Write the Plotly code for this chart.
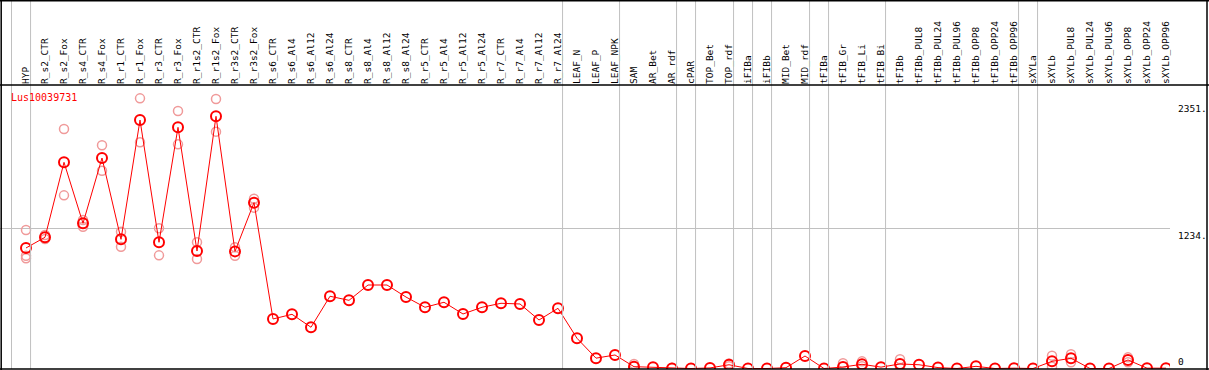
import plotly.graph_objects as go

categories = ["HYP", "R_s2_CTR", "R_s2_Fox", "R_s4_CTR", "R_s4_Fox", "R_r1_CTR", "R_r1_Fox",
              "R_r3_CTR", "R_r3_Fox", "R_r1s2_CTR", "R_r1s2_Fox", "R_r3s2_CTR", "R_r3s2_Fox",
              "R_s6_CTR", "R_s6_Al4", "R_s6_Al12", "R_s6_Al24", "R_s8_CTR", "R_s8_Al4",
              "R_s8_Al12", "R_s8_Al24", "R_r5_CTR", "R_r5_Al4", "R_r5_Al12", "R_r5_Al24",
              "R_r7_CTR", "R_r7_Al4", "R_r7_Al12", "R_r7_Al24", "LEAF_N", "LEAF_P", "LEAF_NPK",
              "SAM", "AR_Bet", "AR_rdf", "cPAR", "TOP_Bet", "TOP_rdf", "iFIBa", "iFIBb",
              "MID_Bet", "MID_rdf", "tFIBa", "tFIB_Gr", "tFIB_Li", "tFIB_Bi", "tFIBb",
              "tFIBb_PUL8", "tFIBb_PUL24", "tFIBb_PUL96", "tFIBb_OPP8", "tFIBb_OPP24",
              "tFIBb_OPP96", "sXYLa", "sXYLb", "sXYLb_PUL8", "sXYLb_PUL24", "sXYLb_PUL96",
              "sXYLb_OPP8", "sXYLb_OPP24", "sXYLb_OPP96"]

mean_values = [1061, 1155, 1815, 1278, 1853, 1137, 2187, 1111, 2123, 1034, 2220, 1031, 1460,
               436, 477, 363, 636, 600, 735, 735, 629, 539, 583, 480, 539, 574, 568, 427, 530,
               266, 91, 119,
               16, 10, 0, 0, 5, 33, 0, 0, 7, 110, 0, 13, 37, 12, 40,
               33, 8, 0, 19, 0, 3, 0, 63, 90, 0, 0, 75, 3, 3]

N = None
rep_a = [1219, 1175, 2108, 1307, 1965, 1204, 2378, 1234, 2267, 1111, 2372, 1067, 1495,
         N, N, N, N, N, N, N, N, N, N, N, N, N, N, N, N, N, N, N,
         40, N, 6, N, N, 45, N, N, N, N, N, 46, 63, N, 81,
         N, N, N, N, N, N, N, 113, 125, N, N, 98, N, N]
rep_b = [993, 1140, 1524, 1248, 1741, 1072, 1991, 996, 1973, 964, 2085, 993, 1416,
         N, N, N, N, N, N, N, N, N, N, N, N, N, N, N, N, N, N, N,
         N, N, N, N, N, 20, N, N, N, N, N, N, 20, N, 5,
         N, N, N, N, N, N, N, 16, 55, N, N, 55, N, N]
rep_c = [970] + [N] * 60

title_text = "Lus10039731"
ytick_vals = [0, 1234, 2351]
ytick_text = ["0", "1234.", "2351."]
# indices of categories after which a group separator is drawn
separators_after = [0, 28, 31, 34, 35, 37, 38, 39, 41, 42, 45, 52, 53, 60]

W, H = 1209, 370
MONO = "DejaVu Sans Mono"
idx = list(range(len(categories)))

fig = go.Figure()
for reps in (rep_a, rep_b, rep_c):
    fig.add_trace(go.Scatter(
        x=idx, y=reps, mode="markers",
        marker=dict(symbol="circle-open", size=9, color="#f09a9a", line=dict(width=1.5)),
        showlegend=False, hoverinfo="skip"))

fig.add_trace(go.Scatter(
    x=idx, y=mean_values, mode="lines+markers",
    line=dict(color="#ff0000", width=1),
    marker=dict(symbol="circle-open", size=10, color="#ff0000", line=dict(width=2)),
    showlegend=False))

shapes = []
gray = "#c0c0c0"
# left gray line
shapes.append(dict(type="line", xref="paper", yref="paper", x0=11.5 / W, x1=11.5 / W,
                   y0=1 / H, y1=1, line=dict(color=gray, width=1)))
for s in separators_after:
    shapes.append(dict(type="line", xref="x", yref="paper", x0=s + 0.24, x1=s + 0.24,
                       y0=1 / H, y1=1, line=dict(color=gray, width=1)))
# black frame
blk = dict(color="black", width=1.5)
shapes.append(dict(type="line", xref="paper", yref="paper", x0=0, x1=1, y0=1 - 0.7 / H, y1=1 - 0.7 / H, line=blk))
shapes.append(dict(type="line", xref="paper", yref="paper", x0=0, x1=1, y0=1 - 85 / H, y1=1 - 85 / H, line=blk))
shapes.append(dict(type="line", xref="paper", yref="paper", x0=0, x1=1, y0=1 - 369 / H, y1=1 - 369 / H, line=blk))
shapes.append(dict(type="line", xref="paper", yref="paper", x0=1.2 / W, x1=1.2 / W, y0=0, y1=1, line=blk))
shapes.append(dict(type="line", xref="paper", yref="paper", x0=1207 / W, x1=1207 / W, y0=0, y1=1, line=blk))

annotations = [dict(text=title_text, xref="paper", yref="paper", x=9 / W, y=1 - 97 / H,
                    xanchor="left", yanchor="middle", showarrow=False,
                    font=dict(family=MONO, size=10, color="#ff0000"))]
for v, t in zip(ytick_vals, ytick_text):
    annotations.append(dict(text=t, xref="paper", yref="y", x=1176 / W, y=v,
                            xanchor="left", yanchor="bottom" if v == 0 else "top",
                            showarrow=False, font=dict(family=MONO, size=9.5, color="black")))

xdom = 1170 / W
fig.update_layout(
    width=W, height=H, autosize=False,
    margin=dict(l=0, r=0, t=0, b=0, pad=0),
    paper_bgcolor="white", plot_bgcolor="white",
    shapes=shapes, annotations=annotations,
    xaxis=dict(domain=[0, xdom], range=[-26 / 19, (1170 - 26) / 19], side="top",
               tickmode="array", tickvals=idx, ticktext=categories, tickangle=-90,
               tickfont=dict(family=MONO, size=9.5, color="black"),
               showgrid=False, zeroline=False, showline=False, ticks=""),
    yaxis=dict(domain=[1 / H, 285 / H], range=[-4.4, 2495.6],
               tickmode="array", tickvals=[1234], showticklabels=False,
               showgrid=True, gridcolor=gray, gridwidth=1,
               zeroline=False, showline=False, ticks=""),
)

fig.write_html("out.html", config={"displayModeBar": False},
               post_script="document.body.style.margin='0px';")
